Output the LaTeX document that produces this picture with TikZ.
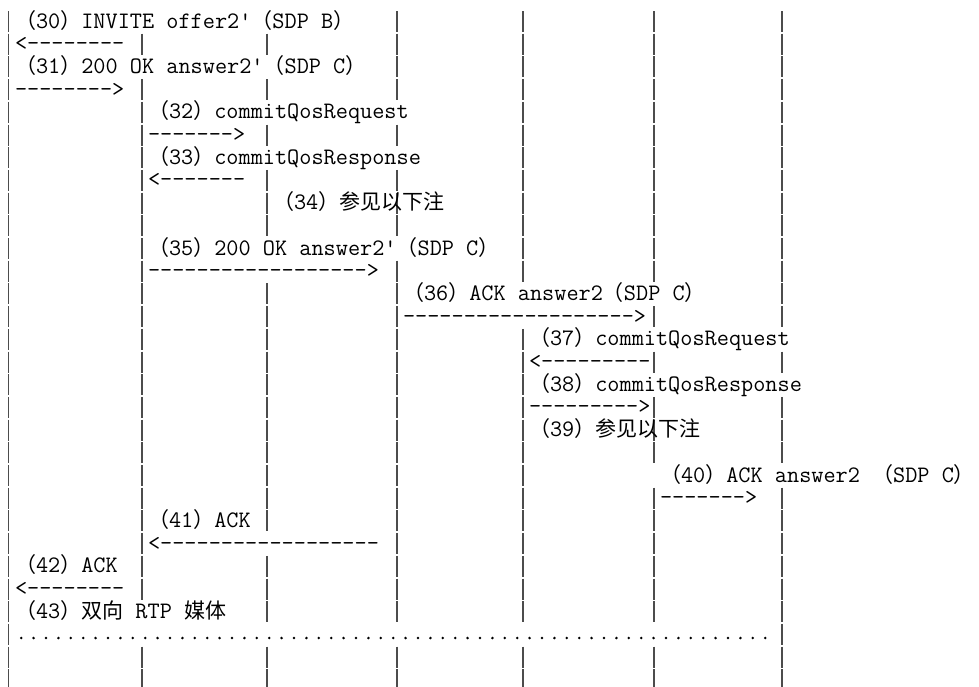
\documentclass[tikz,border=0pt]{standalone}
\usepackage{fontspec}
\newfontfamily\zhfont[Scale=0.89]{Noto Sans CJK SC}
\def\zh#1{{\zhfont #1}}
\def\zlp{\zh{（}}
\def\zrp{\zh{）}}
\def\ry#1{{28+22.7*#1}}
\tikzset{
	msg/.style={anchor=base west, inner sep=0pt, outer sep=0pt, font=\ttfamily\fontsize{23.6}{22.7}\selectfont},
	lifeline/.style={black!70, line width=1.1pt},
	media/.style={line width=2.8pt, line cap=round, dash pattern=on 0pt off 12.4pt}
}

\begin{document}
\begin{tikzpicture}[x=1pt,y=-1pt]
				\useasboundingbox (0,0) rectangle (979,686);
				
				%lifelines, one piece per text row
				\foreach \x/\rows in {8.5/{0,...,29},
						142/{1,3,4,...,25,28,29},
						267/{1,3,5,7,8,9,12,13,...,22,24,25,26,28,29},
						397/{0,1,2,3,5,7,8,9,11,12,...,26,28,29},
						523/{0,1,...,11,14,15,...,26,28,29},
						654/{0,1,...,11,13,15,17,18,19,21,22,...,26,28,29},
						782/{0,1,...,13,15,17,18,19,21,22,...,29}}
					\foreach \r in \rows
						\draw[lifeline] (\x,{11+22.7*\r}) -- ++(0,21);
				
				%messages
				\node[msg] (m30) at (15,\ry{0}) {\zlp30\zrp INVITE offer2'\zlp SDP B\zrp};
				\node[msg] (a30) at (15,\ry{1}) {<--------};
				\node[msg] (m31) at (15,\ry{2}) {\zlp31\zrp 200 OK answer2'\zlp SDP C\zrp};
				\node[msg] (a31) at (15,\ry{3}) {-------->};
				\node[msg] (m32) at (148,\ry{4}) {\zlp32\zrp commitQosRequest};
				\node[msg] (a32) at (148,\ry{5}) {------->};
				\node[msg] (m33) at (148,\ry{6}) {\zlp33\zrp commitQosResponse};
				\node[msg] (a33) at (148,\ry{7}) {<-------};
				\node[msg] (m34) at (273,\ry{8}) {\zlp34\zrp\zh{参见以下注}};
				\node[msg] (m35) at (148,\ry{10}) {\zlp35\zrp 200 OK answer2'\zlp SDP C\zrp};
				\node[msg] (a35) at (148,\ry{11}) {------------------>};
				\node[msg] (m36) at (403,\ry{12}) {\zlp36\zrp ACK answer2\zlp SDP C\zrp};
				\node[msg] (a36) at (403,\ry{13}) {------------------->};
				\node[msg] (m37) at (529,\ry{14}) {\zlp37\zrp commitQosRequest};
				\node[msg] (a37) at (529,\ry{15}) {<---------};
				\node[msg] (m38) at (529,\ry{16}) {\zlp38\zrp commitQosResponse};
				\node[msg] (a38) at (529,\ry{17}) {--------->};
				\node[msg] (m39) at (529,\ry{18}) {\zlp39\zrp\zh{参见以下注}};
				\node[msg] (m40) at (660,\ry{20}) {\zlp40\zrp ACK answer2 \zlp SDP C\zrp};
				\node[msg] (a40) at (660,\ry{21}) {------->};
				\node[msg] (m41) at (148,\ry{22}) {\zlp41\zrp ACK};
				\node[msg] (a41) at (148,\ry{23}) {<------------------};
				\node[msg] (m42) at (15,\ry{24}) {\zlp42\zrp ACK};
				\node[msg] (a42) at (15,\ry{25}) {<--------};
				\node[msg] (m43) at (15,\ry{26}) {\zlp43\zrp\zh{双向} RTP \zh{媒体}};
				
				%media path
				\coordinate (rtpL) at (21.2,638);
				\coordinate (rtpR) at (766,638);
				\draw[media] (rtpL) -- (rtpR);
			\end{tikzpicture}
\end{document}
